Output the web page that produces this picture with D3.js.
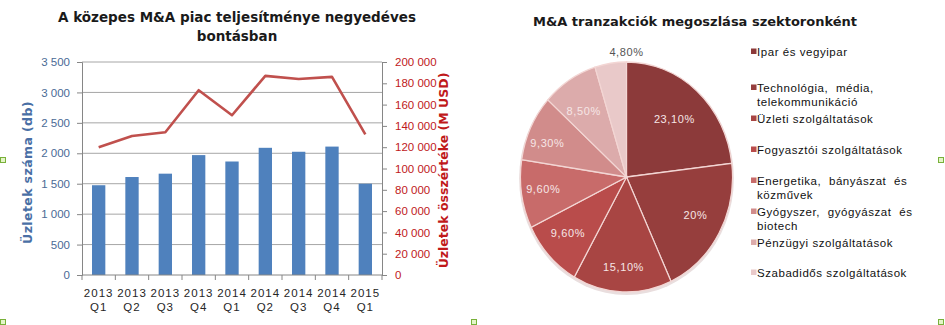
<!DOCTYPE html>
<html>
<head>
<meta charset="utf-8">
<script src="https://cdn.jsdelivr.net/npm/d3@7/dist/d3.min.js"></script>
<style>
  html, body { margin: 0; padding: 0; background: #fff; }
  svg { display: block; font-family: "DejaVu Sans", "Liberation Sans", sans-serif; }
</style>
</head>
<body>
<svg id="chart" width="945" height="325"></svg>
<script>
// Quarterly mid-market M&A: deal counts (bars) and total deal value (line)
const quarters = ["2013 Q1", "2013 Q2", "2013 Q3", "2013 Q4", "2014 Q1", "2014 Q2", "2014 Q3", "2014 Q4", "2015 Q1"];
const dealCounts = [1475, 1610, 1665, 1970, 1865, 2090, 2025, 2110, 1500];
const dealValues = [120000, 130500, 134000, 173500, 150000, 187000, 184000, 186000, 132000];
const countTicks = [0, 500, 1000, 1500, 2000, 2500, 3000, 3500];
const valueTicks = [0, 20000, 40000, 60000, 80000, 100000, 120000, 140000, 160000, 180000, 200000];

// Sector breakdown of transactions (percent)
const sectors = [
  "Ipar és vegyipar",
  "Technológia, média, telekommunikáció",
  "Üzleti szolgáltatások",
  "Fogyasztói szolgáltatások",
  "Energetika, bányászat és közművek",
  "Gyógyszer, gyógyászat és biotech",
  "Pénzügyi szolgáltatások",
  "Szabadidős szolgáltatások"
];
const sectorShares = [23.1, 20, 15.1, 9.6, 9.6, 9.3, 8.5, 4.8];
const shareLabels = ["23,10%", "20%", "15,10%", "9,60%", "9,60%", "9,30%", "8,50%", "4,80%"];
const sectorColors = ["#8c3a3a", "#963e3d", "#a84543", "#b94c4b", "#c86b6a", "#d18c8b", "#dcabab", "#e9c9c9"];

const svg = d3.select("#chart");
const fmtSp = n => d3.format(",")(n).replace(/,/g, " ");

// ---------- Combo chart ----------
const plot = { left: 82, right: 382, top: 62, bottom: 275 };
const x = d3.scaleBand().domain(quarters).range([plot.left, plot.right]).paddingInner(0.6).paddingOuter(0.3);
const xc = d3.scaleBand().domain(quarters).range([plot.left, plot.right]);
const yL = d3.scaleLinear().domain([0, 3500]).range([plot.bottom, plot.top]);
const yR = d3.scaleLinear().domain([0, 200000]).range([plot.bottom, plot.top]);

svg.append("text")
  .attr("x", 237).attr("y", 22)
  .attr("text-anchor", "middle")
  .attr("font-size", 13.5).attr("font-weight", "bold").attr("fill", "#1a1a1a")
  .selectAll("tspan")
  .data(["A közepes M&A piac teljesítménye negyedéves", "bontásban"])
  .join("tspan")
  .attr("x", 237).attr("dy", (d, i) => i ? 19 : 0)
  .text(d => d);

// gridlines
svg.append("g").selectAll("line")
  .data(countTicks.filter(t => t > 0))
  .join("line")
  .attr("x1", plot.left).attr("x2", plot.right)
  .attr("y1", d => yL(d)).attr("y2", d => yL(d))
  .attr("stroke", "#a6a6a6").attr("stroke-width", 1);

// bars
svg.append("g").selectAll("rect")
  .data(quarters)
  .join("rect")
  .attr("x", d => x(d))
  .attr("width", x.bandwidth())
  .attr("y", (d, i) => yL(dealCounts[i]))
  .attr("height", (d, i) => yL(0) - yL(dealCounts[i]))
  .attr("fill", "#4f81bd");

// line
const line = d3.line()
  .x(d => xc(d.q) + xc.bandwidth() / 2)
  .y(d => yR(d.v));
svg.append("path")
  .datum(quarters.map((q, i) => ({ q, v: dealValues[i] })))
  .attr("d", line)
  .attr("fill", "none")
  .attr("stroke", "#c0504d")
  .attr("stroke-width", 2.6)
  .attr("stroke-linejoin", "round");

// left axis
const axL = d3.axisLeft(yL).tickValues(countTicks).tickSize(5).tickPadding(7).tickFormat(fmtSp);
const gL = svg.append("g").attr("transform", `translate(${plot.left},0)`).call(axL);
gL.select(".domain").attr("stroke", "#868686");
gL.selectAll(".tick line").attr("stroke", "#868686");
gL.selectAll("text").attr("font-size", 11.5).attr("fill", "#4a6a96").attr("font-family", "Liberation Sans, sans-serif");

// right axis
const axR = d3.axisRight(yR).tickValues(valueTicks).tickSize(5).tickPadding(8).tickFormat(fmtSp);
const gR = svg.append("g").attr("transform", `translate(${plot.right},0)`).call(axR);
gR.select(".domain").attr("stroke", "#868686");
gR.selectAll(".tick line").attr("stroke", "#868686");
gR.selectAll("text").attr("font-size", 11.5).attr("fill", "#c0191b").attr("font-family", "Liberation Sans, sans-serif");

// bottom axis: ticks on category boundaries
const gB = svg.append("g").attr("transform", `translate(0,${plot.bottom})`);
gB.append("line").attr("x1", plot.left).attr("x2", plot.right).attr("stroke", "#868686");
gB.selectAll("line.tk")
  .data(quarters.concat(["_end"]))
  .join("line")
  .attr("class", "tk")
  .attr("x1", (d, i) => plot.left + i * xc.bandwidth())
  .attr("x2", (d, i) => plot.left + i * xc.bandwidth())
  .attr("y1", 0).attr("y2", 5)
  .attr("stroke", "#868686");
const xl = gB.selectAll("text")
  .data(quarters)
  .join("text")
  .attr("text-anchor", "middle")
  .attr("font-size", 11.5).attr("fill", "#262626")
  .attr("letter-spacing", 1)
  .attr("font-family", "Liberation Sans, sans-serif");
xl.selectAll("tspan")
  .data(d => d.split(" ").map(s => ({ s, q: d })))
  .join("tspan")
  .attr("x", d => xc(d.q) + xc.bandwidth() / 2)
  .attr("y", (d, i) => i ? 36 : 22)
  .text(d => d.s);

// axis titles
svg.append("text")
  .attr("transform", `translate(32,${(plot.top + plot.bottom) / 2 + 4}) rotate(-90)`)
  .attr("text-anchor", "middle")
  .attr("font-size", 12.5).attr("font-weight", "bold").attr("fill", "#4a6fa5")
  .attr("letter-spacing", 0.4)
  .text("Üzletek száma (db)");
svg.append("text")
  .attr("transform", `translate(448,${(plot.top + plot.bottom) / 2 + 2}) rotate(-90)`)
  .attr("text-anchor", "middle")
  .attr("font-size", 12.5).attr("font-weight", "bold").attr("fill", "#c0191b")
  .text("Üzletek összértéke (M USD)");

// ---------- Pie chart ----------
svg.append("text")
  .attr("x", 695).attr("y", 26)
  .attr("text-anchor", "middle")
  .attr("font-size", 13).attr("font-weight", "bold").attr("fill", "#1a1a1a")
  .text("M&A tranzakciók megoszlása szektoronként");

const cx = 626.5, cy = 177, R = 115, sx = 106 / 115;
const pie = d3.pie().sort(null).value(d => d);
const arcs = pie(sectorShares);
const arc = d3.arc().innerRadius(0).outerRadius(R);
const gP = svg.append("g").attr("transform", `translate(${cx},${cy}) scale(${sx},1)`);

// soft rim shadow
gP.append("ellipse").attr("cx", 0).attr("cy", 1.5).attr("rx", R + 1.5).attr("ry", R + 1.5)
  .attr("fill", "#e9dede");

gP.selectAll("path")
  .data(arcs)
  .join("path")
  .attr("d", arc)
  .attr("fill", (d, i) => sectorColors[i])
  .attr("stroke", "#f3d6d4")
  .attr("stroke-width", 1.3);

const labelArc = d3.arc().innerRadius(R * 0.68).outerRadius(R * 0.68);
const labelPos = arcs.map((d, i) => {
  if (i === arcs.length - 1) {
    return [0, -R - 10];
  }
  const c = labelArc.centroid(d);
  return [c[0] * sx, c[1]];
});
// nudge the small slices outward a bit
const adjust = [[0, 0], [6, 0], [0, 12], [-6, 2], [-12, 0], [-14, 0], [-4, 0], [0, 0]];
svg.append("g").selectAll("text")
  .data(arcs)
  .join("text")
  .attr("x", (d, i) => cx + labelPos[i][0] + adjust[i][0])
  .attr("y", (d, i) => cy + labelPos[i][1] + adjust[i][1] + 4)
  .attr("text-anchor", "middle")
  .attr("font-size", 11)
  .attr("font-family", "Liberation Sans, sans-serif")
  .attr("letter-spacing", 0.6)
  .attr("fill", (d, i) => i === arcs.length - 1 ? "#555" : "#f6e6e6")
  .text((d, i) => shareLabels[i]);

// legend
const legendLines = [
  ["Ipar és vegyipar"],
  ["Technológia, média,", "telekommunikáció"],
  ["Üzleti szolgáltatások"],
  ["Fogyasztói szolgáltatások"],
  ["Energetika, bányászat és", "közművek"],
  ["Gyógyszer, gyógyászat és", "biotech"],
  ["Pénzügyi szolgáltatások"],
  ["Szabadidős szolgáltatások"]
];
const legendY = [52, 88, 119, 150, 181, 212, 243, 273];
const gLg = svg.append("g");
sectors.forEach((s, i) => {
  gLg.append("rect")
    .attr("x", 751).attr("y", legendY[i] - 3.5)
    .attr("width", 5.5).attr("height", 5.5)
    .attr("fill", sectorColors[i]);
  const t = gLg.append("text")
    .attr("font-size", 11.5)
    .attr("font-family", "Liberation Sans, sans-serif")
    .attr("letter-spacing", 0.55)
    .attr("fill", "#111");
  legendLines[i].forEach((ln, j) => {
    t.append("tspan")
      .attr("x", 757)
      .attr("y", legendY[i] + 4 + j * 13.5)
      .attr("word-spacing", ln.includes(" ") && j === 0 && legendLines[i].length > 1 ? 4 : 0)
      .text(ln);
  });
});

// selection handles of the chart frames
const handles = [[3, 160], [941, 160], [3, 322], [474, 322], [941, 322]];
svg.append("g").selectAll("rect")
  .data(handles)
  .join("rect")
  .attr("x", d => d[0] - 2.5).attr("y", d => d[1] - 2.5)
  .attr("width", 5).attr("height", 5)
  .attr("fill", "#e4f5c8").attr("stroke", "#79b13a").attr("stroke-width", 1);
</script>
</body>
</html>
